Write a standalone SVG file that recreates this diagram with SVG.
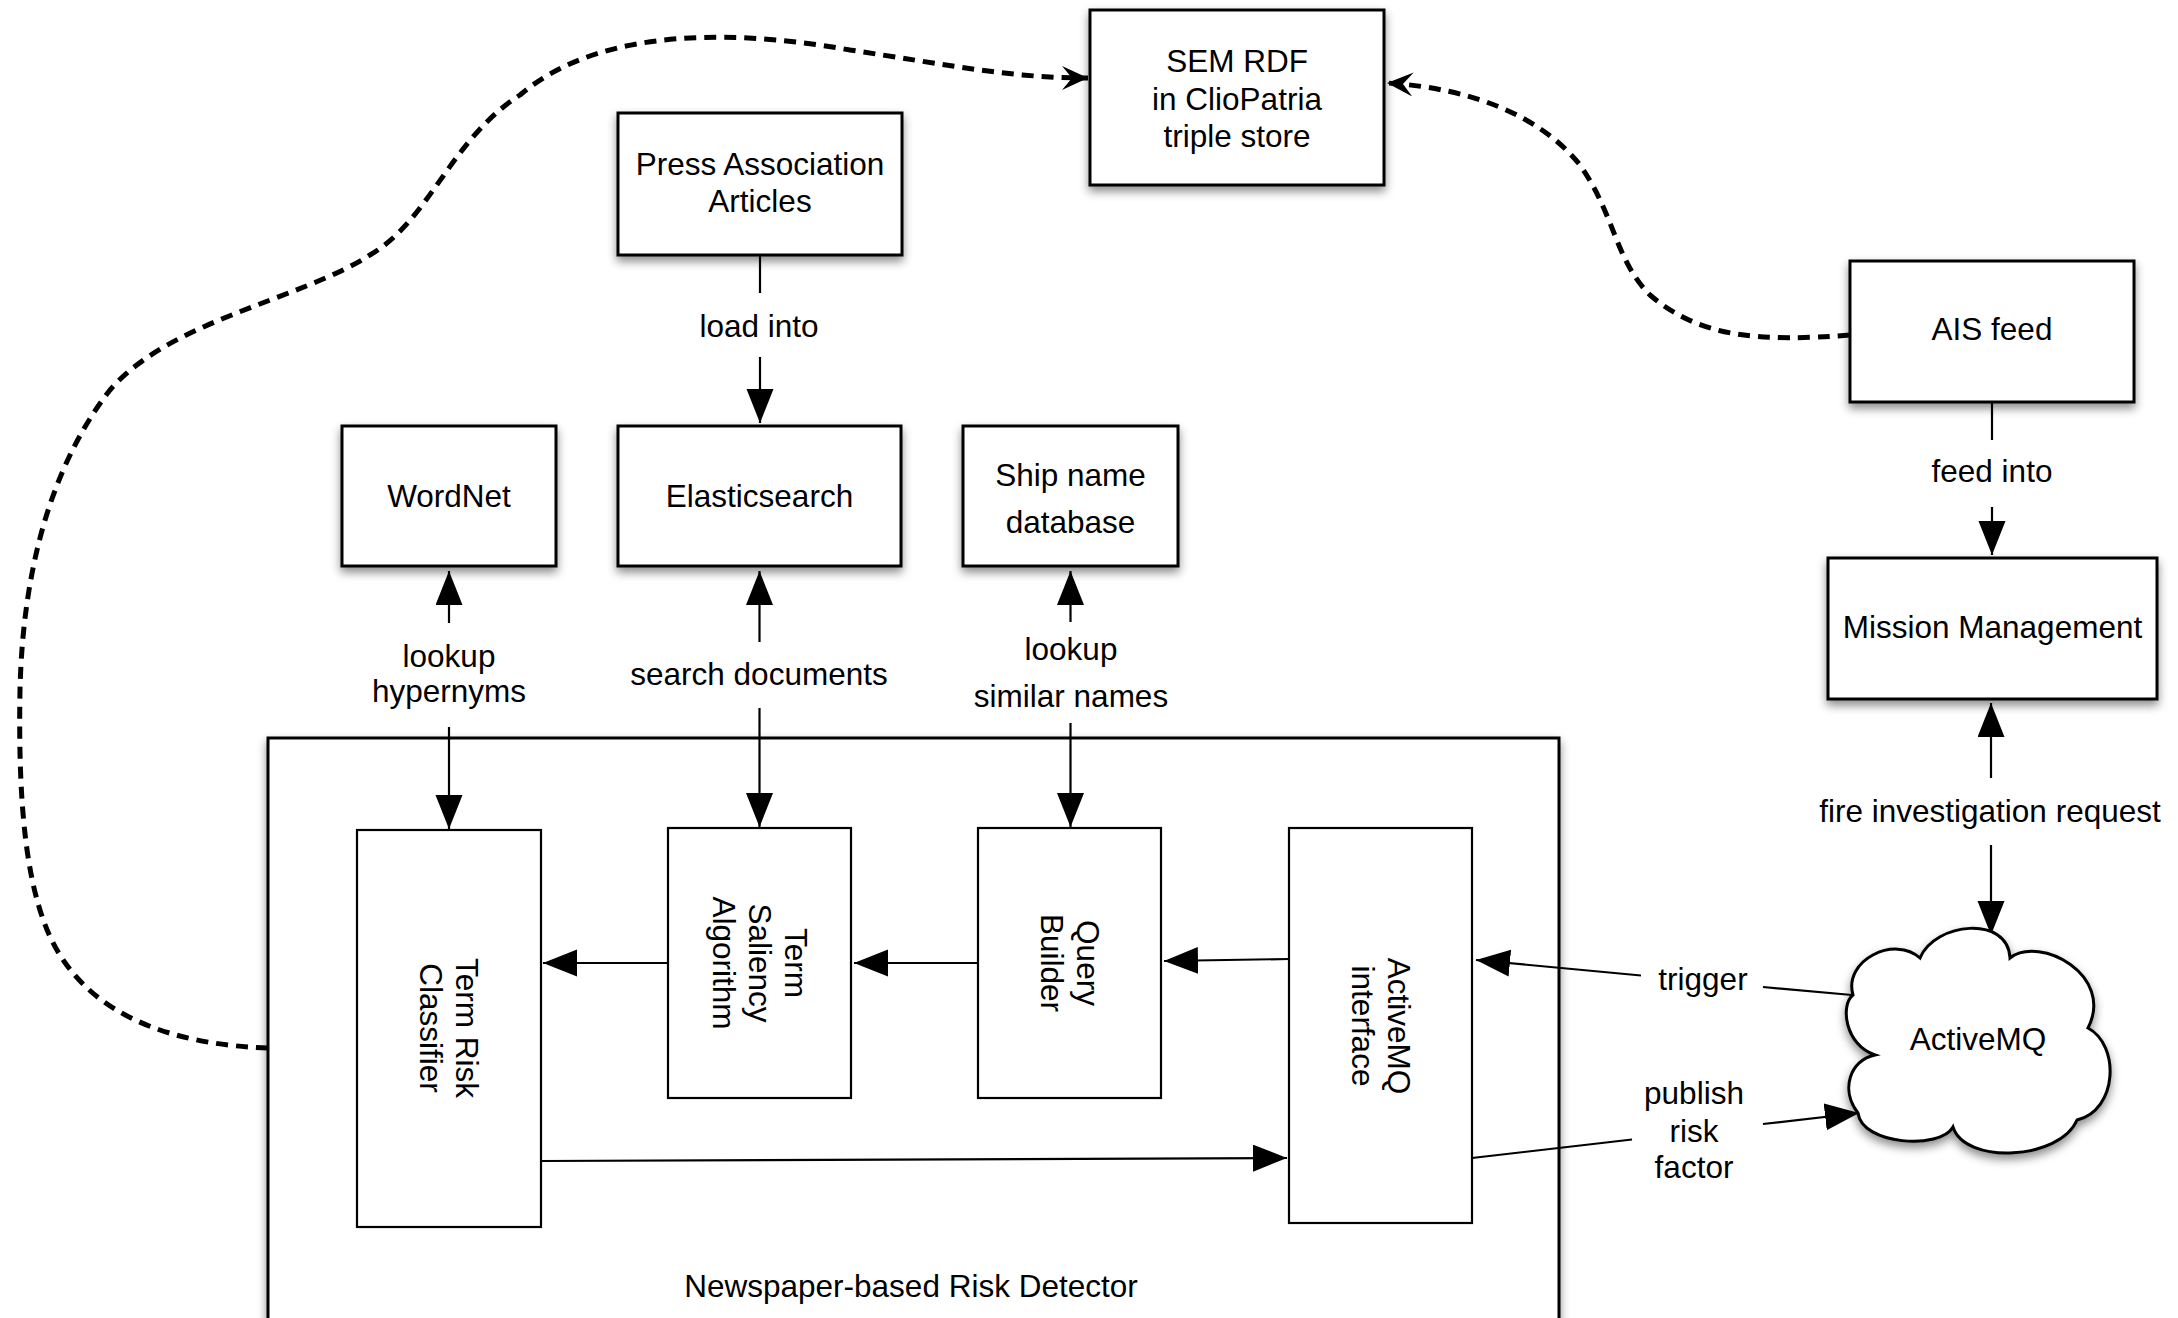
<svg xmlns="http://www.w3.org/2000/svg" width="2178" height="1318" viewBox="0 0 2178 1318">
<style>
text{font-family:"Liberation Sans",Arial,sans-serif;font-size:31.5px;fill:#000;text-anchor:middle}
.box{fill:#fff;stroke:#000;stroke-width:3;filter:url(#sh)}
.inner{fill:#fff;stroke:#000;stroke-width:2.2}
.ln{fill:none;stroke:#000;stroke-width:2.2}
.la{fill:none;stroke:#000;stroke-width:2.2;marker-end:url(#tri)}
.dash{fill:none;stroke:#000;stroke-width:5;stroke-dasharray:12 8;marker-end:url(#barb)}
</style>
<defs>
<filter id="sh" x="-10%" y="-10%" width="125%" height="130%">
<feDropShadow dx="0" dy="5" stdDeviation="5" flood-color="#000" flood-opacity="0.45"/>
</filter>
<marker id="tri" markerUnits="userSpaceOnUse" markerWidth="36" markerHeight="28" refX="34" refY="13.5" orient="auto">
<path d="M0,0 L34,13.5 L0,27 Z" fill="#000" stroke="none"/>
</marker>
<marker id="barb" markerUnits="userSpaceOnUse" markerWidth="28" markerHeight="26" refX="26" refY="12" orient="auto">
<path d="M26,12 L0,0 L10,12 L0,24 Z" fill="#000" stroke="none"/>
</marker>
</defs>
<rect width="2178" height="1318" fill="#fff"/>

<g id="detector">
<rect class="box" x="268" y="738" width="1291" height="620"/>
<text x="911" y="1297">Newspaper-based Risk Detector</text>
</g>

<g id="connectors">
<path class="dash" d="M268,1048 C180,1045 100,1020 60,955 C25,900 18,800 20,690 C22,600 40,480 110,390 C170,320 300,300 370,255 C430,220 450,140 520,95 C590,35 710,25 850,50 C950,65 1010,78 1088,78"/>
<path class="dash" d="M1850,335 C1760,342 1700,338 1650,295 C1615,260 1615,215 1580,165 C1540,115 1470,88 1387,83"/>

<line class="ln" x1="760" y1="255" x2="760" y2="293"/>
<path class="la" d="M760,357 L760,423"/>
<text x="759" y="337">load into</text>

<path class="la" d="M449,623 L449,571"/>
<path class="la" d="M449,727 L449,829"/>
<text x="449" y="667">lookup</text>
<text x="449" y="702">hypernyms</text>

<path class="la" d="M759.5,642 L759.5,571"/>
<path class="la" d="M759.5,708 L759.5,827"/>
<text x="759" y="685">search documents</text>

<path class="la" d="M1070.5,622 L1070.5,571"/>
<path class="la" d="M1070.5,723 L1070.5,827"/>
<text x="1071" y="660">lookup</text>
<text x="1071" y="707">similar names</text>

<path class="la" d="M668,963 L543,963"/>
<path class="la" d="M978,963 L854,963"/>
<path class="la" d="M1289,959 L1164,961"/>
<path class="la" d="M541,1161 L1287,1158"/>

<line class="ln" x1="1992" y1="402" x2="1992" y2="440"/>
<path class="la" d="M1992,507 L1992,555"/>
<text x="1992" y="482">feed into</text>

<path class="la" d="M1991,778 L1991,703"/>
<path class="la" d="M1991,845 L1991,935"/>
<text x="1990" y="822">fire investigation request</text>

<line class="ln" x1="1852" y1="995" x2="1763" y2="987"/>
<path class="la" d="M1641,975.5 L1476,960"/>
<text x="1703" y="990">trigger</text>

<line class="ln" x1="1472" y1="1158" x2="1632" y2="1139.5"/>
<path class="la" d="M1763,1124 L1859,1113"/>
<text x="1694" y="1104">publish</text>
<text x="1694" y="1142">risk</text>
<text x="1694" y="1178">factor</text>
</g>

<g id="sem-rdf">
<rect class="box" x="1090" y="10" width="294" height="175"/>
<text x="1237" y="72">SEM RDF</text>
<text x="1237" y="110">in ClioPatria</text>
<text x="1237" y="147">triple store</text>
</g>

<g id="press-association">
<rect class="box" x="618" y="113" width="284" height="142"/>
<text x="760" y="175">Press Association</text>
<text x="760" y="212">Articles</text>
</g>

<g id="wordnet">
<rect class="box" x="342" y="426" width="214" height="140"/>
<text x="449" y="507">WordNet</text>
</g>

<g id="elasticsearch">
<rect class="box" x="618" y="426" width="283" height="140"/>
<text x="759.5" y="507">Elasticsearch</text>
</g>

<g id="ship-name-database">
<rect class="box" x="963" y="426" width="215" height="140"/>
<text x="1070.5" y="486">Ship name</text>
<text x="1070.5" y="533">database</text>
</g>

<g id="ais-feed">
<rect class="box" x="1850" y="261" width="284" height="141"/>
<text x="1992" y="340">AIS feed</text>
</g>

<g id="mission-management">
<rect class="box" x="1828" y="558" width="329" height="141"/>
<text x="1992.5" y="638">Mission Management</text>
</g>

<g id="activemq">
<path class="box" d="M1853,995 C1843,960 1895,935 1920,958 C1935,922 2008,915 2010,958 C2040,935 2115,975 2088,1028 C2120,1045 2118,1110 2077,1120 C2060,1160 1965,1165 1953,1127 C1940,1150 1862,1145 1858,1113 C1840,1090 1850,1060 1875,1055 C1845,1045 1840,1005 1853,995 Z"/>
<text x="1978" y="1050">ActiveMQ</text>
</g>

<g id="term-risk-classifier">
<rect class="inner" x="357" y="830" width="184" height="397"/>
<text transform="translate(449,1028) rotate(90)"><tspan x="0" y="-7">Term Risk</tspan><tspan x="0" y="29">Classifier</tspan></text>
</g>

<g id="term-saliency-algorithm">
<rect class="inner" x="668" y="828" width="183" height="270"/>
<text transform="translate(759.5,963) rotate(90)"><tspan x="0" y="-25">Term</tspan><tspan x="0" y="11">Saliency</tspan><tspan x="0" y="47">Algorithm</tspan></text>
</g>

<g id="query-builder">
<rect class="inner" x="978" y="828" width="183" height="270"/>
<text transform="translate(1069.5,963) rotate(90)"><tspan x="0" y="-7">Query</tspan><tspan x="0" y="29">Builder</tspan></text>
</g>

<g id="activemq-interface">
<rect class="inner" x="1289" y="828" width="183" height="395"/>
<text transform="translate(1380.5,1026) rotate(90)"><tspan x="0" y="-7">ActiveMQ</tspan><tspan x="0" y="29">interface</tspan></text>
</g>
</svg>
